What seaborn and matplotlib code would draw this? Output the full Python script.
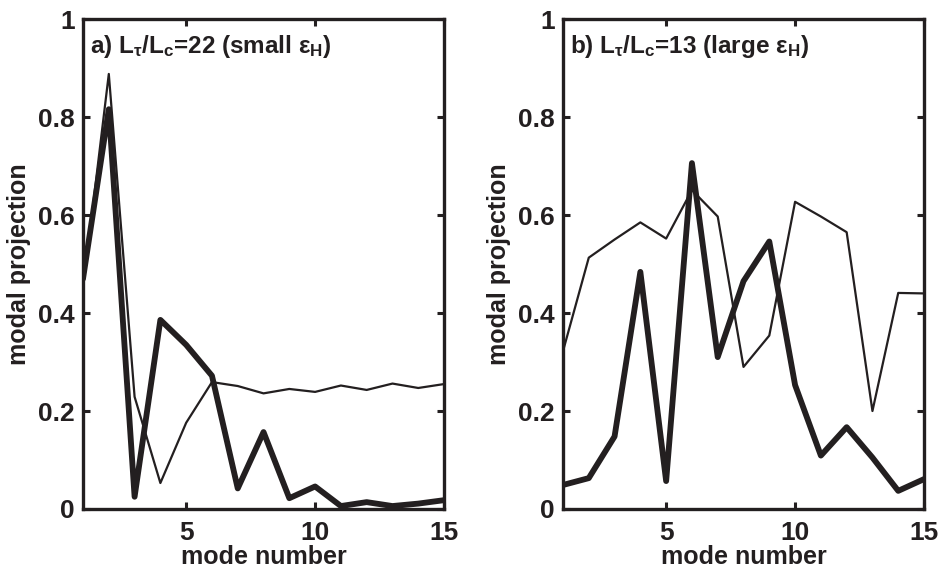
import matplotlib
matplotlib.use("Agg")
import matplotlib.pyplot as plt
import pandas as pd
import seaborn as sns

# Mode numbers 1..15 and the two projections per panel.
modes = list(range(1, 16))

# Panel a) L_tau/L_c = 22 (small eps_H)
a_thin = [0.45, 0.888, 0.229, 0.053, 0.176, 0.259, 0.251, 0.236, 0.245, 0.239,
          0.252, 0.243, 0.256, 0.247, 0.255]
a_thick = [0.47, 0.816, 0.025, 0.386, 0.335, 0.272, 0.042, 0.157, 0.022, 0.046,
           0.006, 0.014, 0.006, 0.011, 0.018]

# Panel b) L_tau/L_c = 13 (large eps_H)
b_thin = [0.322, 0.513, 0.550, 0.585, 0.552, 0.651, 0.597, 0.290, 0.354, 0.627,
          0.597, 0.565, 0.200, 0.441, 0.440]
b_thick = [0.049, 0.063, 0.148, 0.484, 0.057, 0.706, 0.310, 0.465, 0.546, 0.253,
           0.109, 0.167, 0.105, 0.037, 0.061]

titles = [r"a) L$_{\tau}$/L$_{\mathbf{c}}$=22 (small $\varepsilon_{\mathbf{H}}$)",
          r"b) L$_{\tau}$/L$_{\mathbf{c}}$=13 (large $\varepsilon_{\mathbf{H}}$)"]
xticks = [5, 10, 15]
yticks = [0, 0.2, 0.4, 0.6, 0.8, 1]
yticklabels = ["0", "0.2", "0.4", "0.6", "0.8", "1"]

sns.set_style("ticks")
plt.rcParams["font.family"] = ["Liberation Sans", "DejaVu Sans"]
plt.rcParams["font.weight"] = "bold"
plt.rcParams["mathtext.fontset"] = "custom"
plt.rcParams["mathtext.rm"] = "Liberation Sans"
plt.rcParams["mathtext.bf"] = "Liberation Sans:bold"
plt.rcParams["mathtext.default"] = "rm"

ink = "#231f20"

fig = plt.figure(figsize=(9.38, 5.71), dpi=100)
ax_a = fig.add_axes([0.0885, 0.1086, 0.3849, 0.858])
ax_b = fig.add_axes([0.6002, 0.1086, 0.3849, 0.858])

panels = [(ax_a, a_thin, a_thick, titles[0]), (ax_b, b_thin, b_thick, titles[1])]
for ax, thin, thick, title in panels:
    df = pd.DataFrame({"mode": modes, "thin": thin, "thick": thick})
    sns.lineplot(data=df, x="mode", y="thin", ax=ax, color=ink, linewidth=1.6)
    sns.lineplot(data=df, x="mode", y="thick", ax=ax, color=ink, linewidth=4.2)

    ax.set_xlim(1, 15)
    ax.set_ylim(0, 1)
    ax.set_xticks(xticks)
    ax.set_yticks(yticks)
    ax.set_yticklabels(yticklabels)
    ax.tick_params(direction="in", length=5, width=2.2, top=True, right=True,
                   labelsize=19, colors=ink)
    ax.tick_params(axis="y", pad=6)
    ax.tick_params(axis="x", pad=8.5)
    for lab in ax.get_xticklabels() + ax.get_yticklabels():
        lab.set_fontweight("bold")
    for sp in ax.spines.values():
        sp.set_visible(True)
        sp.set_linewidth(2.4)
        sp.set_color(ink)
    ax.set_xlabel("mode number", fontsize=18, fontweight="bold", color=ink, labelpad=0)
    ax.set_ylabel("modal projection", fontsize=18, fontweight="bold", color=ink, labelpad=5)
    ax.text(0.02, 0.931, title, transform=ax.transAxes, fontsize=17.5,
            fontweight="bold", color=ink, va="baseline", ha="left")

fig.savefig("out.png", dpi=100)
